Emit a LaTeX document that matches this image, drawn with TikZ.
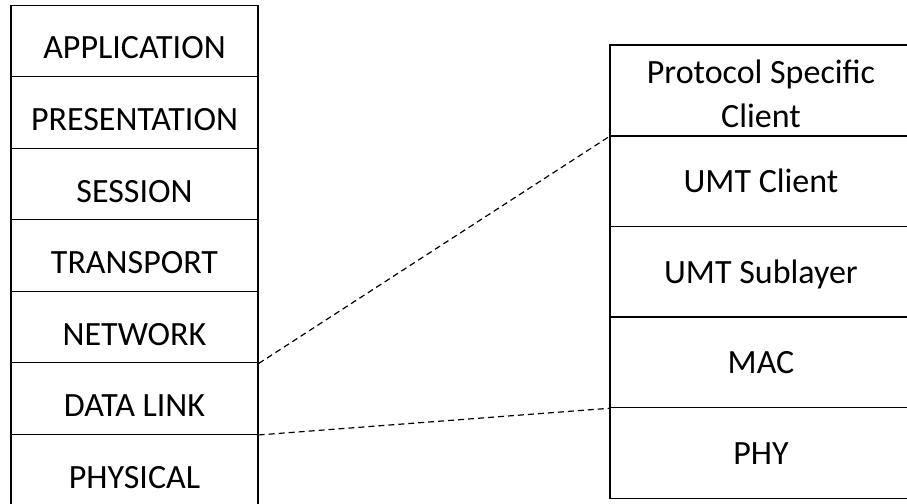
\documentclass[tikz,border=0pt]{standalone}
\usepackage{fontspec}
\setmainfont{Carlito}
\begin{document}
\begin{tikzpicture}[x=1pt,y=-1pt,
  lrow/.style={draw, line width=1.4pt, minimum width=247pt, minimum height=71.5pt, inner sep=0pt,
    font=\fontsize{34}{44}\selectfont, text height=36pt, text depth=0pt},
  rrow/.style={draw, line width=1.4pt, minimum width=302pt, minimum height=90.6pt, inner sep=0pt,
    font=\fontsize{34}{44}\selectfont, text height=23pt, text depth=0pt, align=center},
  link/.style={dashed, dash pattern=on 6pt off 4pt, line width=1.2pt}]
\useasboundingbox (0,0) rectangle (907,503);
\node[lrow] (L1) at (134.5,41) {APPLICATION};
\node[lrow] (L2) at (134.5,112.5) {PRESENTATION};
\node[lrow] (L3) at (134.5,184) {SESSION};
\node[lrow] (L4) at (134.5,255.5) {TRANSPORT};
\node[lrow] (L5) at (134.5,327) {NETWORK};
\node[lrow] (L6) at (134.5,398.5) {DATA LINK};
\node[lrow] (L7) at (134.5,470) {PHYSICAL};
\node[rrow, text height=74pt] (R1) at (761,90.5) {Protocol Specific\\Client};
\node[rrow] (R2) at (761,181.1) {UMT Client};
\node[rrow] (R3) at (761,271.7) {UMT Sublayer};
\node[rrow] (R4) at (761,362.3) {MAC};
\node[rrow] (R5) at (761,452.9) {PHY};
\draw[link] (L5.south east) -- (R1.south west);
\draw[link] (L6.south east) -- (R4.south west);
\end{tikzpicture}
\end{document}
